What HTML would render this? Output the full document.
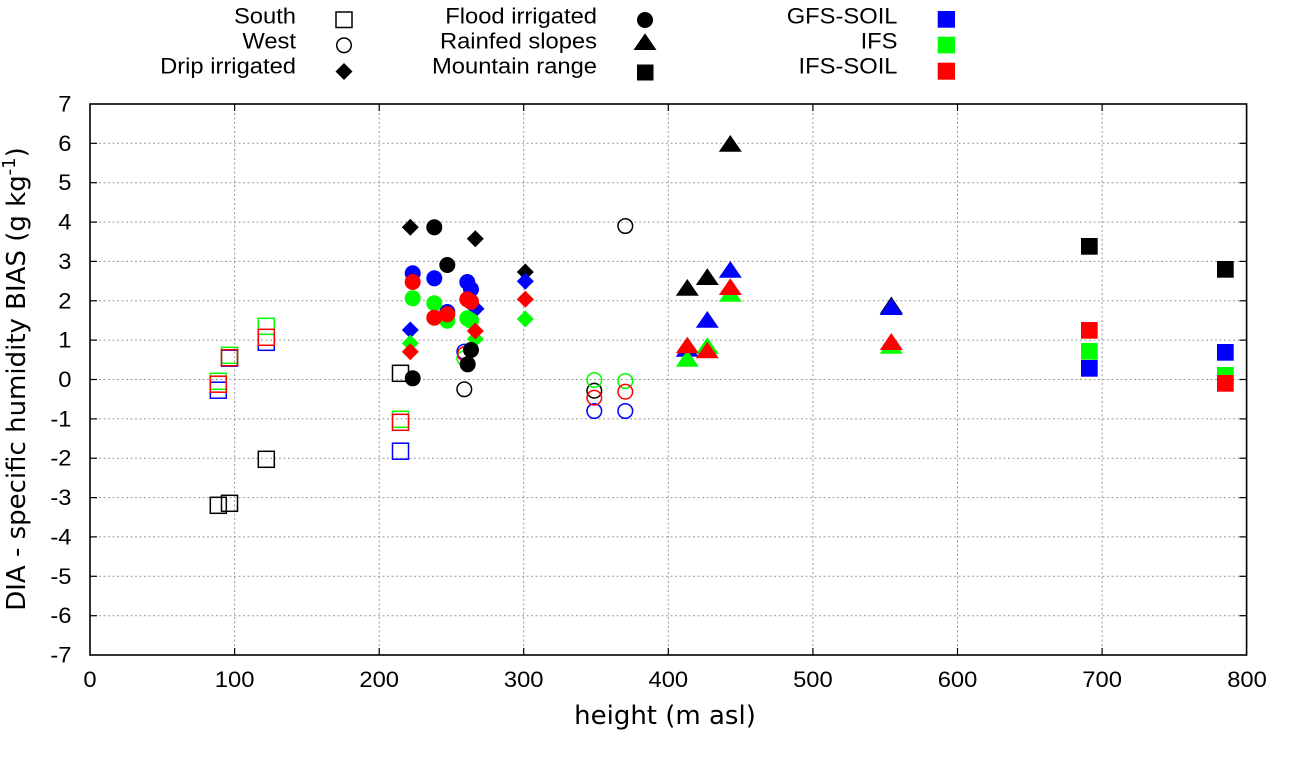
<!DOCTYPE html>
<html>
<head>
<meta charset="utf-8">
<style>
html,body{margin:0;padding:0;background:#fff;}
svg{display:block;}
.t{font-family:"Liberation Sans",Arial,sans-serif;font-size:22px;fill:#000;}
.d{font-family:"DejaVu Sans","Liberation Sans",sans-serif;font-size:26px;fill:#000;}
</style>
</head>
<body>
<svg width="1290" height="760" viewBox="0 0 1290 760" xmlns="http://www.w3.org/2000/svg">
<rect width="1290" height="760" fill="#fff"/>

<!-- grid -->
<g stroke="#9a9a9a" stroke-width="1" stroke-dasharray="2,2.5" fill="none">
  <line x1="234.6" y1="104" x2="234.6" y2="655"/>
  <line x1="379.2" y1="104" x2="379.2" y2="655"/>
  <line x1="523.7" y1="104" x2="523.7" y2="655"/>
  <line x1="668.3" y1="104" x2="668.3" y2="655"/>
  <line x1="812.9" y1="104" x2="812.9" y2="655"/>
  <line x1="957.5" y1="104" x2="957.5" y2="655"/>
  <line x1="1102.1" y1="104" x2="1102.1" y2="655"/>
  <line x1="90" y1="143.3" x2="1246.6" y2="143.3"/>
  <line x1="90" y1="182.7" x2="1246.6" y2="182.7"/>
  <line x1="90" y1="222.1" x2="1246.6" y2="222.1"/>
  <line x1="90" y1="261.4" x2="1246.6" y2="261.4"/>
  <line x1="90" y1="300.8" x2="1246.6" y2="300.8"/>
  <line x1="90" y1="340.1" x2="1246.6" y2="340.1"/>
  <line x1="90" y1="379.5" x2="1246.6" y2="379.5"/>
  <line x1="90" y1="418.9" x2="1246.6" y2="418.9"/>
  <line x1="90" y1="458.2" x2="1246.6" y2="458.2"/>
  <line x1="90" y1="497.6" x2="1246.6" y2="497.6"/>
  <line x1="90" y1="536.9" x2="1246.6" y2="536.9"/>
  <line x1="90" y1="576.3" x2="1246.6" y2="576.3"/>
  <line x1="90" y1="615.7" x2="1246.6" y2="615.7"/>
</g>

<!-- ticks -->
<g stroke="#000" stroke-width="1.2">
  <line x1="90" y1="143.3" x2="97" y2="143.3"/><line x1="1239.6" y1="143.3" x2="1246.6" y2="143.3"/>
  <line x1="90" y1="182.7" x2="97" y2="182.7"/><line x1="1239.6" y1="182.7" x2="1246.6" y2="182.7"/>
  <line x1="90" y1="222.1" x2="97" y2="222.1"/><line x1="1239.6" y1="222.1" x2="1246.6" y2="222.1"/>
  <line x1="90" y1="261.4" x2="97" y2="261.4"/><line x1="1239.6" y1="261.4" x2="1246.6" y2="261.4"/>
  <line x1="90" y1="300.8" x2="97" y2="300.8"/><line x1="1239.6" y1="300.8" x2="1246.6" y2="300.8"/>
  <line x1="90" y1="340.1" x2="97" y2="340.1"/><line x1="1239.6" y1="340.1" x2="1246.6" y2="340.1"/>
  <line x1="90" y1="379.5" x2="97" y2="379.5"/><line x1="1239.6" y1="379.5" x2="1246.6" y2="379.5"/>
  <line x1="90" y1="418.9" x2="97" y2="418.9"/><line x1="1239.6" y1="418.9" x2="1246.6" y2="418.9"/>
  <line x1="90" y1="458.2" x2="97" y2="458.2"/><line x1="1239.6" y1="458.2" x2="1246.6" y2="458.2"/>
  <line x1="90" y1="497.6" x2="97" y2="497.6"/><line x1="1239.6" y1="497.6" x2="1246.6" y2="497.6"/>
  <line x1="90" y1="536.9" x2="97" y2="536.9"/><line x1="1239.6" y1="536.9" x2="1246.6" y2="536.9"/>
  <line x1="90" y1="576.3" x2="97" y2="576.3"/><line x1="1239.6" y1="576.3" x2="1246.6" y2="576.3"/>
  <line x1="90" y1="615.7" x2="97" y2="615.7"/><line x1="1239.6" y1="615.7" x2="1246.6" y2="615.7"/>
  <line x1="234.6" y1="655" x2="234.6" y2="648"/><line x1="234.6" y1="104" x2="234.6" y2="111"/>
  <line x1="379.2" y1="655" x2="379.2" y2="648"/><line x1="379.2" y1="104" x2="379.2" y2="111"/>
  <line x1="523.7" y1="655" x2="523.7" y2="648"/><line x1="523.7" y1="104" x2="523.7" y2="111"/>
  <line x1="668.3" y1="655" x2="668.3" y2="648"/><line x1="668.3" y1="104" x2="668.3" y2="111"/>
  <line x1="812.9" y1="655" x2="812.9" y2="648"/><line x1="812.9" y1="104" x2="812.9" y2="111"/>
  <line x1="957.5" y1="655" x2="957.5" y2="648"/><line x1="957.5" y1="104" x2="957.5" y2="111"/>
  <line x1="1102.1" y1="655" x2="1102.1" y2="648"/><line x1="1102.1" y1="104" x2="1102.1" y2="111"/>
</g>

<!-- border -->
<rect x="90" y="104" width="1156.6" height="551" fill="none" stroke="#000" stroke-width="1.6"/>

<!-- y tick labels -->
<g class="t" text-anchor="end">
  <text transform="translate(71.5,111.5) scale(1.08,1)">7</text>
  <text transform="translate(71.5,150.8) scale(1.08,1)">6</text>
  <text transform="translate(71.5,190.2) scale(1.08,1)">5</text>
  <text transform="translate(71.5,229.6) scale(1.08,1)">4</text>
  <text transform="translate(71.5,268.9) scale(1.08,1)">3</text>
  <text transform="translate(71.5,308.3) scale(1.08,1)">2</text>
  <text transform="translate(71.5,347.6) scale(1.08,1)">1</text>
  <text transform="translate(71.5,387) scale(1.08,1)">0</text>
  <text transform="translate(71.5,426.4) scale(1.08,1)">-1</text>
  <text transform="translate(71.5,465.7) scale(1.08,1)">-2</text>
  <text transform="translate(71.5,505.1) scale(1.08,1)">-3</text>
  <text transform="translate(71.5,544.4) scale(1.08,1)">-4</text>
  <text transform="translate(71.5,583.8) scale(1.08,1)">-5</text>
  <text transform="translate(71.5,623.2) scale(1.08,1)">-6</text>
  <text transform="translate(71.5,662.5) scale(1.08,1)">-7</text>
</g>

<!-- x tick labels -->
<g class="t" text-anchor="middle">
  <text transform="translate(90,687) scale(1.08,1)">0</text>
  <text transform="translate(234.6,687) scale(1.08,1)">100</text>
  <text transform="translate(379.2,687) scale(1.08,1)">200</text>
  <text transform="translate(523.7,687) scale(1.08,1)">300</text>
  <text transform="translate(668.3,687) scale(1.08,1)">400</text>
  <text transform="translate(812.9,687) scale(1.08,1)">500</text>
  <text transform="translate(957.5,687) scale(1.08,1)">600</text>
  <text transform="translate(1102.1,687) scale(1.08,1)">700</text>
  <text transform="translate(1247,687) scale(1.08,1)">800</text>
</g>

<!-- axis labels -->
<text class="d" x="665" y="724" text-anchor="middle">height (m asl)</text>
<text class="d" transform="translate(25,379) rotate(-90)" text-anchor="middle">DIA - specific humidity BIAS (g kg<tspan font-size="18" dy="-10">-1</tspan><tspan dy="10">)</tspan></text>

<!-- legend text -->
<g class="t" text-anchor="end">
  <text transform="translate(296,23.7) scale(1.08,1)">South</text>
  <text transform="translate(296,48.5) scale(1.08,1)">West</text>
  <text transform="translate(296,73.3) scale(1.08,1)">Drip irrigated</text>
  <text transform="translate(597,23.7) scale(1.08,1)">Flood irrigated</text>
  <text transform="translate(597,48.5) scale(1.08,1)">Rainfed slopes</text>
  <text transform="translate(597,73.3) scale(1.08,1)">Mountain range</text>
  <text transform="translate(897.5,23.7) scale(1.08,1)">GFS-SOIL</text>
  <text transform="translate(897.5,48.5) scale(1.08,1)">IFS</text>
  <text transform="translate(897.5,73.3) scale(1.08,1)">IFS-SOIL</text>
</g>

<!-- legend markers -->
<rect x="336" y="12" width="16" height="15.5" fill="none" stroke="#000" stroke-width="1.5"/>
<circle cx="344" cy="45.3" r="7.3" fill="none" stroke="#000" stroke-width="1.5"/>
<polygon points="344,63 352.5,71.5 344,80 335.5,71.5" fill="#000"/>
<circle cx="645" cy="20" r="8" fill="#000"/>
<polygon points="645,33.3 656.5,50 633.5,50" fill="#000"/>
<rect x="637" y="64.5" width="16.5" height="16" fill="#000"/>
<rect x="937.7" y="11" width="17.3" height="16.7" fill="#0000ff"/>
<rect x="937.7" y="36.7" width="17.3" height="16.7" fill="#00ff00"/>
<rect x="937.7" y="62.7" width="17.3" height="17" fill="#ff0000"/>

<!-- ===== DATA ===== -->
<!-- black observations -->
<g fill="none" stroke="#000" stroke-width="1.5">
  <rect x="210.3" y="497.3" width="16" height="16"/>
  <rect x="221.5" y="495.3" width="16" height="16"/>
  <rect x="258.3" y="451.3" width="16" height="16"/>
  <rect x="392.5" y="365.3" width="16" height="16"/>
  <circle cx="464.3" cy="389.3" r="7.3"/>
  <circle cx="594.3" cy="390.7" r="7.3"/>
  <circle cx="625.3" cy="226" r="7.3"/>
</g>
<g fill="#000">
  <polygon points="410.3,218.8 418.8,227.3 410.3,235.8 401.8,227.3"/>
  <polygon points="475.3,230.2 483.8,238.7 475.3,247.2 466.8,238.7"/>
  <polygon points="525.3,263.5 533.8,272 525.3,280.5 516.8,272"/>
  <circle cx="434.3" cy="227.3" r="8"/>
  <circle cx="447.3" cy="265" r="8"/>
  <circle cx="412.7" cy="378.3" r="8"/>
  <polygon points="730.3,135 741.8,151.7 718.8,151.7"/>
  <polygon points="687.3,279 698.8,295.7 675.8,295.7"/>
  <polygon points="707.3,268.3 718.8,285 695.8,285"/>
  <polygon points="891.3,296.5 902.8,313.7 879.8,313.7"/>
  <rect x="1081" y="238" width="16.7" height="16.7"/>
  <rect x="1217" y="261" width="16.7" height="16.7"/>
</g>

<!-- blue GFS-SOIL -->
<g fill="none" stroke="#0000ff" stroke-width="1.5">
  <rect x="210.3" y="382.2" width="16" height="16"/>
  <rect x="221.5" y="350.2" width="16" height="16"/>
  <rect x="258.3" y="334.3" width="16" height="16"/>
  <rect x="392.5" y="443.2" width="16" height="16"/>
  <circle cx="594.3" cy="411" r="7.3"/>
  <circle cx="625.3" cy="411" r="7.3"/>
  <circle cx="464.3" cy="351.7" r="7.3"/>
</g>
<g fill="#0000ff">
  <polygon points="410.3,321.5 418.8,330 410.3,338.5 401.8,330"/>
  <polygon points="476,300.2 484.5,308.7 476,317.2 467.5,308.7"/>
  <polygon points="525.3,272.8 533.8,281.3 525.3,289.8 516.8,281.3"/>
  <circle cx="412.7" cy="273.3" r="8"/>
  <circle cx="434.3" cy="278.3" r="8"/>
  <circle cx="447.3" cy="312" r="8"/>
  <circle cx="467.3" cy="282" r="8"/>
  <circle cx="471" cy="289.3" r="8"/>
  <polygon points="730.3,261 741.8,277.7 718.8,277.7"/>
  <polygon points="707.3,311 718.8,327.7 695.8,327.7"/>
  <polygon points="687.3,340 698.8,356.7 675.8,356.7"/>
  <polygon points="891.3,298 902.8,315 879.8,315"/>
  <rect x="1081" y="360" width="16.7" height="16.7"/>
  <rect x="1217" y="344" width="16.7" height="16.7"/>
</g>

<!-- green IFS -->
<g fill="none" stroke="#00ff00" stroke-width="1.5">
  <rect x="210.3" y="373.3" width="16" height="16"/>
  <rect x="221.5" y="347.3" width="16" height="16"/>
  <rect x="258.3" y="318.3" width="16" height="16"/>
  <rect x="392.5" y="411.3" width="16" height="16"/>
  <circle cx="594.3" cy="380" r="7.3"/>
  <circle cx="625.3" cy="381" r="7.3"/>
  <circle cx="464.3" cy="358.3" r="7.3"/>
</g>
<g fill="#00ff00">
  <polygon points="410.3,334.8 418.8,343.3 410.3,351.8 401.8,343.3"/>
  <polygon points="475.3,330.5 483.8,339 475.3,347.5 466.8,339"/>
  <polygon points="525.3,310.5 533.8,319 525.3,327.5 516.8,319"/>
  <circle cx="412.7" cy="298.3" r="8"/>
  <circle cx="434.3" cy="303.3" r="8"/>
  <circle cx="447.3" cy="320.7" r="8"/>
  <circle cx="467.3" cy="318.3" r="8"/>
  <circle cx="471" cy="320.7" r="8"/>
  <polygon points="730.3,285 741.8,301.7 718.8,301.7"/>
  <polygon points="707.3,337.3 718.8,354 695.8,354"/>
  <polygon points="687.3,350 698.8,366.7 675.8,366.7"/>
  <polygon points="891.3,337 902.8,353.7 879.8,353.7"/>
  <rect x="1081" y="343" width="16.7" height="16.7"/>
  <rect x="1217" y="367" width="16.7" height="16.7"/>
</g>

<!-- red IFS-SOIL -->
<g fill="none" stroke="#ff0000" stroke-width="1.5">
  <rect x="210.3" y="376.2" width="16" height="16"/>
  <rect x="221.5" y="349.7" width="16" height="16"/>
  <rect x="258.3" y="329.3" width="16" height="16"/>
  <rect x="392.5" y="414.3" width="16" height="16"/>
  <circle cx="594.3" cy="397.7" r="7.3"/>
  <circle cx="625.3" cy="391.7" r="7.3"/>
  <circle cx="465" cy="354" r="7.3"/>
</g>
<g fill="#ff0000">
  <polygon points="410.3,343.2 418.8,351.7 410.3,360.2 401.8,351.7"/>
  <polygon points="475.3,322.5 483.8,331 475.3,339.5 466.8,331"/>
  <polygon points="525.3,290.8 533.8,299.3 525.3,307.8 516.8,299.3"/>
  <circle cx="412.7" cy="282" r="8"/>
  <circle cx="434.3" cy="317.7" r="8"/>
  <circle cx="447.3" cy="314.3" r="8"/>
  <circle cx="467.3" cy="299.3" r="8"/>
  <circle cx="471" cy="301.7" r="8"/>
  <polygon points="730.3,278.3 741.8,295 718.8,295"/>
  <polygon points="707.3,341.7 718.8,358.3 695.8,358.3"/>
  <polygon points="687.3,336.7 698.8,353.3 675.8,353.3"/>
  <polygon points="891.3,333 902.8,350 879.8,350"/>
  <rect x="1081" y="322" width="16.7" height="16.7"/>
  <rect x="1217" y="375" width="16.7" height="16.7"/>
</g>

<!-- flood irrigated black circles drawn on top -->
<g fill="#000">
  <circle cx="471" cy="350" r="8"/>
  <circle cx="467.7" cy="364.3" r="8"/>
</g>
</svg>
</body>
</html>
